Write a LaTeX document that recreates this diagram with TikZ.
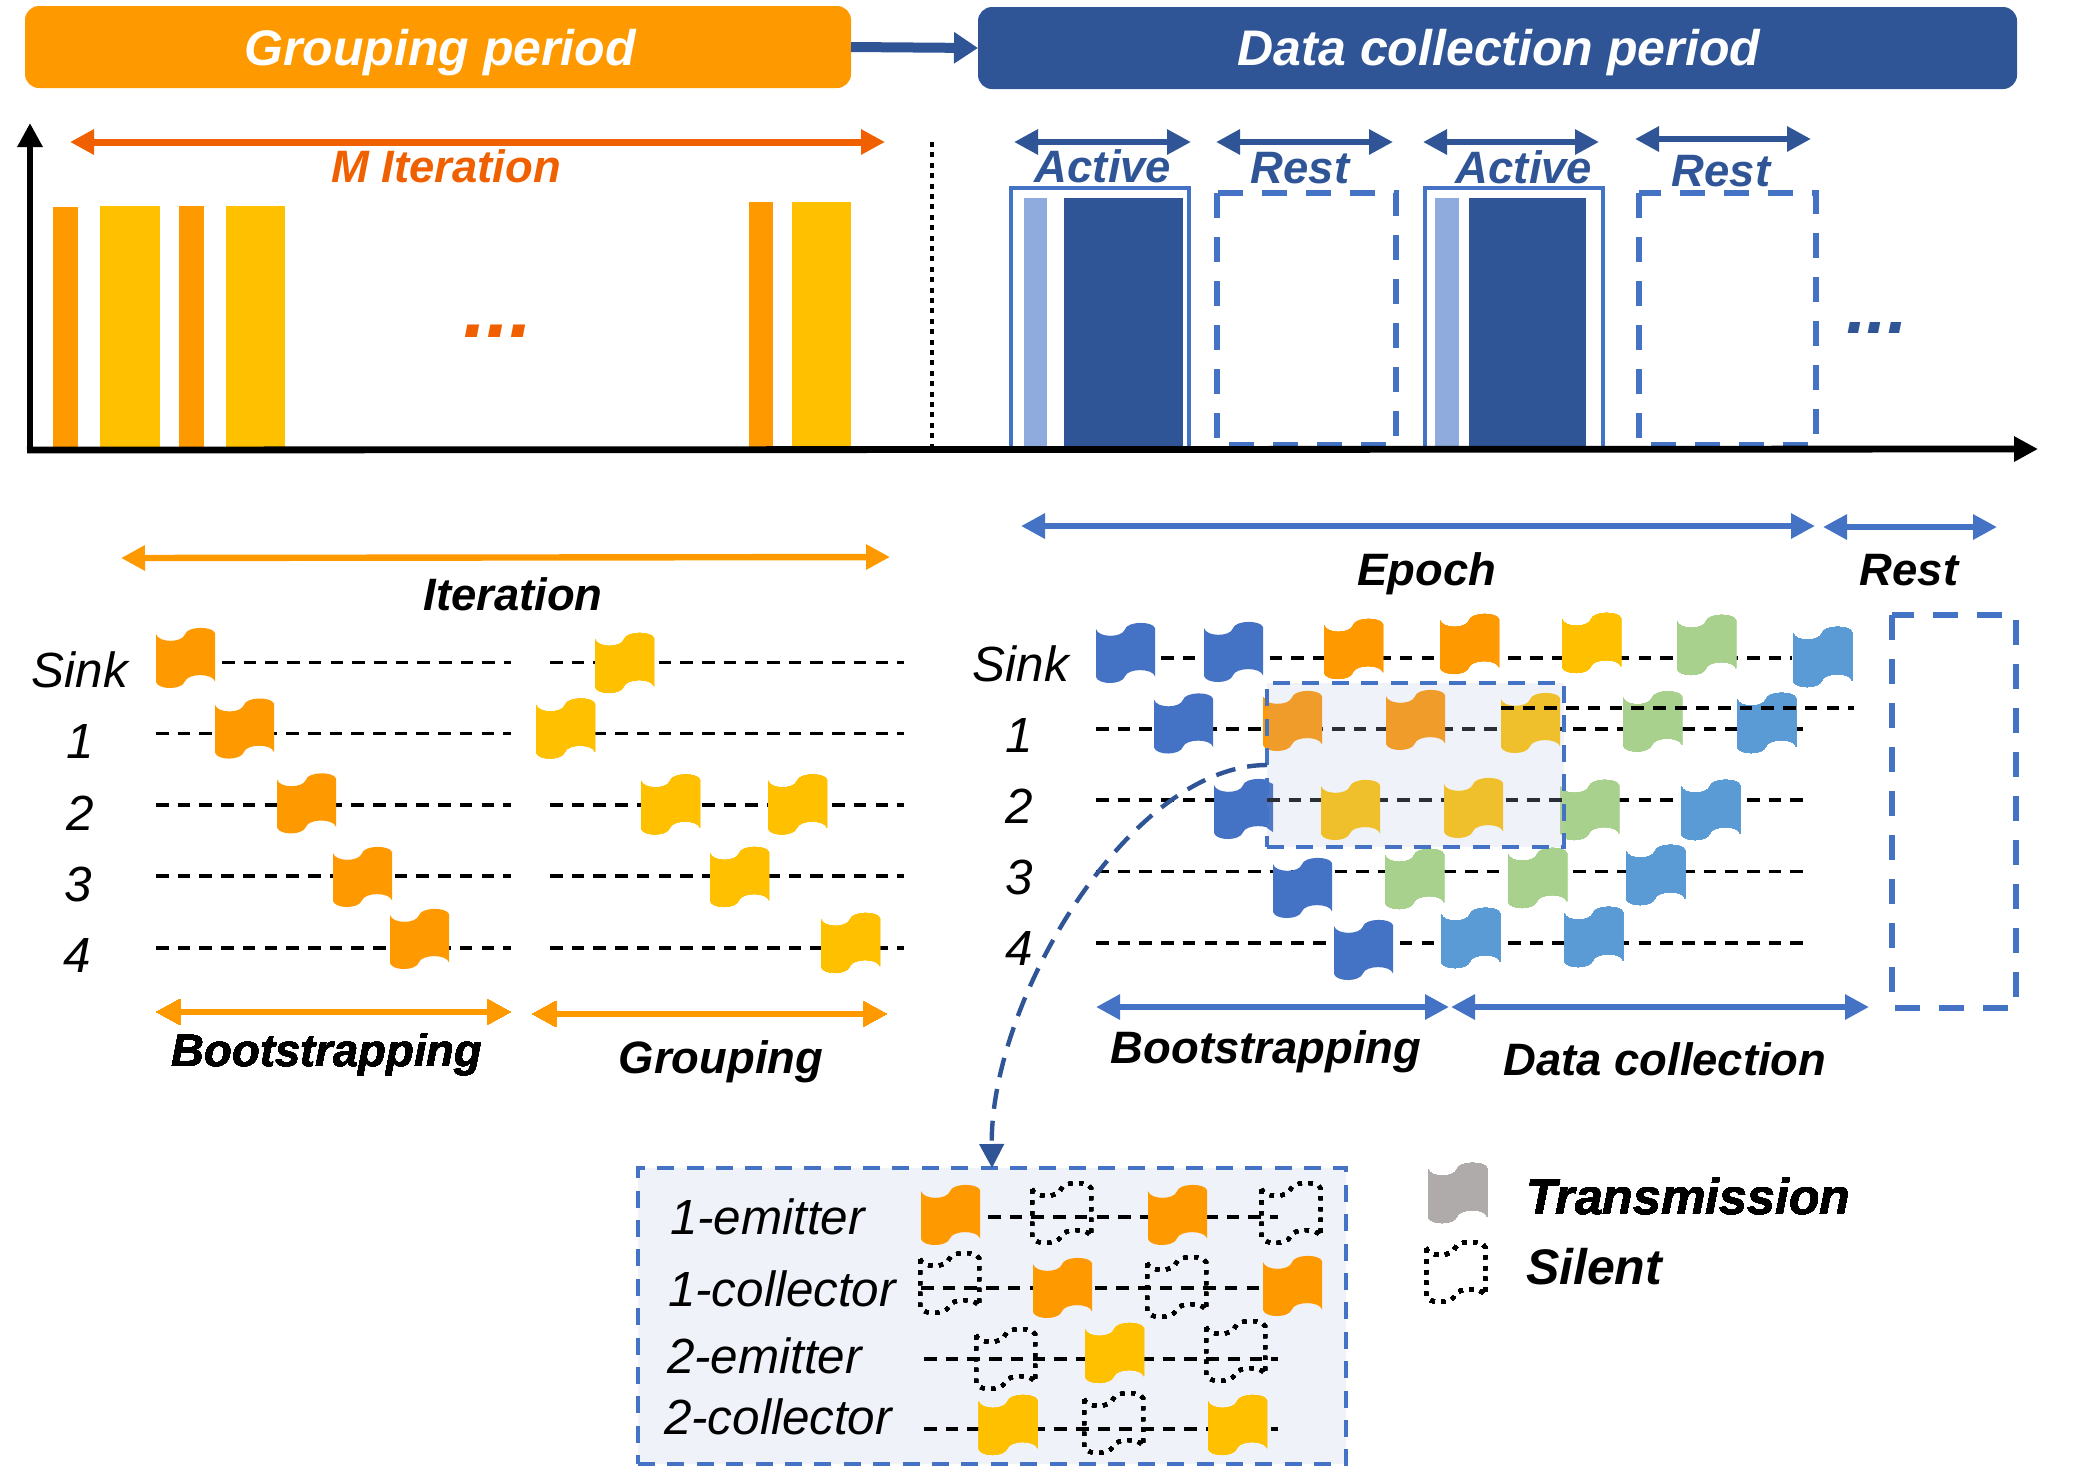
\documentclass[tikz,border=0pt]{standalone}
\usepackage{fontspec}
\setmainfont{Liberation Sans}
\usetikzlibrary{arrows.meta}
\definecolor{orA}{HTML}{FF9900}
\definecolor{orB}{HTML}{F06000}
\definecolor{yeA}{HTML}{FFC000}
\definecolor{blA}{HTML}{4472C4}
\definecolor{blD}{HTML}{2F5597}
\definecolor{blL}{HTML}{8FAADC}
\definecolor{blS}{HTML}{5B9BD5}
\definecolor{grA}{HTML}{A9D18E}
\definecolor{gyA}{HTML}{AFABAB}
\definecolor{insetbg}{HTML}{EFF2F9}
\definecolor{orVeil}{HTML}{F09C2A}
\definecolor{yeVeil}{HTML}{EFC02C}
\definecolor{blVeil}{HTML}{5078C4}
\definecolor{grVeil}{HTML}{B0D098}
\definecolor{lnVeil}{HTML}{2A2E36}
\tikzset{
  every node/.style={inner sep=0pt,outer sep=0pt},
  dbl/.style={line width=3pt,{Triangle[length=12pt,width=12pt]}-{Triangle[length=12pt,width=12pt]}},
  axisline/.style={line width=3.4pt,-{Triangle[length=12pt,width=12pt]},black},
  gridline/.style={black,line width=1.8pt,dash pattern=on 6.3pt off 4.55pt},
  veilline/.style={draw=lnVeil,line width=1.8pt,dash pattern=on 6.3pt off 4.55pt},
  title/.style={font=\fontsize{25}{30}\selectfont\bfseries\itshape,white,anchor=base},
  blab/.style={font=\fontsize{22.7}{27}\selectfont\bfseries\itshape,anchor=base},
  leg/.style={font=\fontsize{25}{30}\selectfont\bfseries\itshape,anchor=base west},
  rlab/.style={font=\fontsize{24.7}{29}\selectfont\itshape,anchor=base},
  llab/.style={font=\fontsize{24.7}{29}\selectfont\itshape,anchor=base west},
  longdash/.style={draw=blA,line width=2.8pt,dash pattern=on 12.5pt off 9.5pt},
  shortdash/.style={draw=blA,line width=2.1pt,dash pattern=on 8.5pt off 6.2pt},
  silent/.style={draw=black,line width=2pt,dash pattern=on 2pt off 3.4pt},
  periodbox/.style={rounded corners=7pt,minimum height=41pt},
}
\newcommand\WV[3]{\path[#3,shift={(#1,#2)},xscale=59,yscale=60]
  (0,.1) .. controls (.04,.25) and (.44,.25) .. (.49,.107)
  .. controls (.53,-.035) and (.96,-.035) .. (1,.085) -- (1,.89)
  .. controls (.96,.75) and (.54,.75) .. (.49,.89)
  .. controls (.44,1.035) and (.04,1.035) .. (0,.9) -- cycle;}
\newcommand\DA[6]{\coordinate (#1a) at (#2); \coordinate (#1b) at (#3);
  \draw[dbl,#4,line width=#5] (#1a) -- (#1b);}
\newcommand\DL[4]{\coordinate (#1a) at (#3,#2); \coordinate (#1b) at (#4,#2);
  \draw[gridline] (#1a) -- (#1b);}
\begin{document}
\begin{tikzpicture}[x=.5pt,y=-.5pt]
\useasboundingbox (0,0) rectangle (2080,1480);
% header
\node[periodbox,fill=orA,minimum width=413pt] (gp) at (438,47) {};
\node[periodbox,fill=blD,minimum width=519.5pt] (dp) at (1497.5,48) {};
\node[title] (gpt) at (440,65) {Grouping period};
\node[title] (dpt) at (1499,65) {Data collection period};
\draw[blD,line width=5pt,-{Triangle[length=12pt,width=15pt]}] (gp.east) -- (dp.west);
% bars
\foreach \a/\b/\t/\c in {53/78/207/orA,100/160/206/yeA,179/204/206/orA,226/285/206/yeA,749/773/202/orA,792/851/202/yeA}
  \fill[\c] (\a,\t) rectangle (\b,453);
\node[blab,orB] (mit) at (446,182) {M Iteration};
\DA{mi}{70,142}{885,142}{orB}{3.5pt}{}
\node[font=\fontsize{42}{44}\selectfont\bfseries\itshape,orB,anchor=base] (dots1) at (498,337) {...};
\coordinate (vdA) at (932,142); \coordinate (vdB) at (932,447);
\draw[black,line width=2.4pt,dash pattern=on 2.5pt off 2.7pt] (vdA) -- (vdB);
% active / rest
\fill[blL] (1024,198) rectangle (1047,446);
\fill[blD] (1064,198) rectangle (1183,446);
\fill[blL] (1435,198) rectangle (1459,446);
\fill[blD] (1469,198) rectangle (1586,446);
\draw[blA,line width=2.2pt] (1011,447) -- (1011,188) -- (1189,188) -- (1189,447);
\draw[blA,line width=2.2pt] (1425,447) -- (1425,188) -- (1603,188) -- (1603,447);
\draw[longdash] (1217,193) rectangle (1396,445);
\draw[longdash] (1639,193) rectangle (1816,445);
\DA{aa}{1014,142}{1191,142}{blD}{3pt}{}
\DA{ab}{1216,142}{1393,142}{blD}{3pt}{}
\DA{ac}{1423,142}{1599,142}{blD}{3pt}{}
\DA{ad}{1635,139}{1811,139}{blD}{3pt}{}
\node[blab,blD] (tA1) at (1103,182) {Active};
\node[blab,blD] (tR1) at (1300,183) {Rest};
\node[blab,blD] (tA2) at (1524,183) {Active};
\node[blab,blD] (tR2) at (1721,186) {Rest};
\node[font=\fontsize{37}{39}\selectfont\bfseries\itshape,blD,anchor=base] (dots2) at (1877,333) {...};
% axes
\coordinate (oo) at (27,450); \coordinate (xe) at (2038,449);
\coordinate (oy) at (30,452); \coordinate (ye) at (30,123);
\draw[axisline] (oy) -- (ye);
\draw[axisline] (oo) -- (xe);
% lower left
\DA{it}{121,558}{890,557}{orA}{3.2pt}{}
\node[blab] (tIt) at (513,610) {Iteration};
\foreach \n/\y in {1/662.5,2/733.6,3/805,4/876,5/948}{
  \DL{lr\n}{\y}{550}{904}
  \ifnum\n>1 \DL{ll\n}{\y}{156}{511}\fi
}
\DL{ll1}{662.5}{222}{511}
\node[rlab] (s0) at (80,687) {Sink};
\node[rlab] (s1) at (80,758) {1};
\node[rlab] (s2) at (80,830) {2};
\node[rlab] (s3) at (78,901) {3};
\node[rlab] (s4) at (77,972) {4};
\foreach \x/\y in {156/628,215/698.6,277/773.4,333/847,390/909}
  \WV{\x}{\y}{fill=orA}
\foreach \x/\y in {595/633,536/698.6,641/774.5,768/774.5,710/847,821/913}
  \WV{\x}{\y}{fill=yeA}
\DA{bo}{156,1012}{511,1012}{orA}{3pt}{}
\DA{gr}{532,1014}{887,1014}{orA}{3pt}{}
\node[blab] (tBo) at (327,1066) {Bootstrapping};
\node[blab] (tGr) at (721,1073) {Grouping};
% lower right
\DA{ep}{1021,526}{1815,526}{blA}{3pt}{}
\DA{re}{1823,527}{1997,527}{blA}{3pt}{}
\node[blab] (tEp) at (1427,585) {Epoch};
\node[blab] (tRe) at (1909,585) {Rest};
\node[rlab] (r0) at (1021,681) {Sink};
\node[rlab] (r1) at (1019,752) {1};
\node[rlab] (r2) at (1019,823) {2};
\node[rlab] (r3) at (1019,894) {3};
\node[rlab] (r4) at (1019,965) {4};
\DL{m0}{658}{1096}{1792}
\DL{m1}{729}{1096}{1804}
\DL{m2}{800}{1096}{1804}
\DL{m3}{871.5}{1096}{1804}
\DL{m4}{943}{1096}{1804}
\foreach \x/\y in {1096/623,1204/622,1154/693.5,1214/779,1273/858,1334/920}
  \WV{\x}{\y}{fill=blA}
\foreach \x/\y in {1324/619,1440/614}
  \WV{\x}{\y}{fill=orA}
\foreach \x/\y in {1562/613}
  \WV{\x}{\y}{fill=yeA}
\foreach \x/\y in {1677/615,1623/691.5,1560/780,1385/849,1508/848}
  \WV{\x}{\y}{fill=grA}
\foreach \x/\y in {1793/627,1737/693,1681/780,1626/845,1441/908,1564/907}
  \WV{\x}{\y}{fill=blS}
% highlighted area: a pale veil, its contents in the veiled colours
\fill[insetbg] (1267,683) rectangle (1564,847);
\fill[blVeil] (1267,781) -- (1273,784) -- (1273,832) -- (1267,828) -- cycle;
\fill[grVeil] (1560,786) -- (1564,788.4) -- (1564,836) -- (1560,834) -- cycle;
\coordinate (v1a) at (1267,729); \coordinate (v1b) at (1564,729);
\coordinate (v2a) at (1267,800); \coordinate (v2b) at (1564,800);
\draw[veilline] (v1a) -- (v1b);
\draw[veilline] (v2a) -- (v2b);
\WV{1263}{691}{fill=orVeil}
\fill[orA] (1263,697) -- (1267,699.5) -- (1267,747.5) -- (1263,745) -- cycle;
\WV{1386}{690}{fill=orVeil}
\WV{1501}{693}{fill=yeVeil}
\WV{1321}{780}{fill=yeVeil}
\WV{1444}{778}{fill=yeVeil}
\node[shortdash,minimum width=148.5pt,minimum height=82pt] (sel) at (1415.5,765) {};
\DL{m5}{708}{1501}{1854}
\draw[longdash] (1892,615) rectangle (2016,1008);
\DA{bs}{1096,1007}{1449,1007}{blA}{3pt}{}
\DA{dc}{1451,1007}{1869,1007}{blA}{3pt}{}
\node[blab] (tBs) at (1266,1063) {Bootstrapping};
\node[blab] (tDc) at (1665,1075) {Data collection};
% inset
\node[shortdash,fill=insetbg,minimum width=354pt,minimum height=148pt] (inset) at (992,1316) {};
\draw[blD,line width=2.2pt,dash pattern=on 10pt off 6pt,-{Triangle[length=12pt,width=12pt]}]
  (sel.west) .. controls (1130,765) and (990,1000) .. (inset.north);
\node[llab] (i1) at (670,1234) {1-emitter};
\node[llab] (i2) at (668,1306) {1-collector};
\node[llab] (i3) at (667,1373) {2-emitter};
\node[llab] (i4) at (664,1434) {2-collector};
\DL{n1}{1217}{988}{1278}
\DL{n2}{1288}{921}{1263}
\DL{n3}{1359}{924}{1278}
\DL{n4}{1429}{924}{1278}
\foreach \x/\y in {921/1185,1148/1185,1033/1258,1263/1256}
  \WV{\x}{\y}{fill=orA}
\foreach \x/\y in {1085/1323,978.5/1395,1208/1395}
  \WV{\x}{\y}{fill=yeA}
\foreach \x/\y in {1032/1183,1261.5/1183,920/1253,1147/1257,976/1329,1206/1321,1084/1393}
  \WV{\x}{\y}{silent}
% legend
\WV{1428}{1163}{fill=gyA}
\WV{1426}{1242}{silent}
\node[leg] (lT) at (1526,1214) {Transmission};
\node[leg] (lS) at (1526,1284) {Silent};
\end{tikzpicture}
\end{document}
